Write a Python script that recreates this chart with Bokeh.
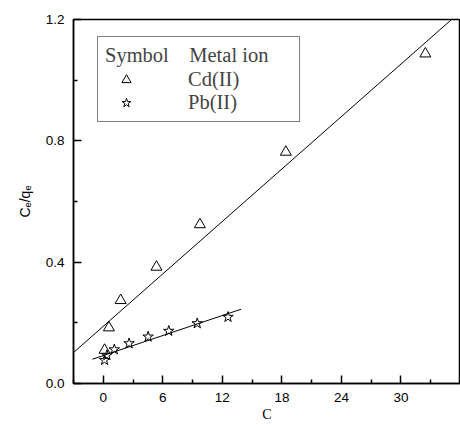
from bokeh.plotting import figure
from bokeh.models import (Range1d, FixedTicker, Legend, LegendItem, Label,
                          CustomJSTickFormatter)
from bokeh.embed import file_html
from bokeh.resources import INLINE

# ---- data ----
cd_x = [0.13, 0.57, 1.75, 5.36, 9.74, 18.4, 32.46]
cd_y = [0.110, 0.184, 0.274, 0.384, 0.524, 0.763, 1.087]

pb_x = [0.13, 0.37, 1.11, 2.60, 4.52, 6.60, 9.47, 12.57]
pb_y = [0.077, 0.093, 0.112, 0.132, 0.154, 0.173, 0.198, 0.219]

# fitted straight lines (end points)
cd_fit_x = [-3.0, 35.1]
cd_fit_y = [0.102, 1.200]
pb_fit_x = [-1.1, 13.9]
pb_fit_y = [0.080, 0.245]

x_major = [0, 6, 12, 18, 24, 30, 36]
x_minor = [-3, 3, 9, 15, 21, 27, 33]
y_major = [0.0, 0.4, 0.8, 1.2]
y_minor = [0.2, 0.6, 1.0]

p = figure(width=460, height=425, output_backend="svg", toolbar_location=None,
           x_range=Range1d(-3, 36), y_range=Range1d(0, 1.2),
           min_border_left=73, min_border_right=0, min_border_top=19,
           min_border_bottom=42, min_border=0)
p.background_fill_color = "white"
p.border_fill_color = "white"
p.grid.visible = False
p.outline_line_color = "black"
p.outline_line_width = 1.5

for ax in (p.xaxis[0], p.yaxis[0]):
    ax.axis_line_width = 1.5
    ax.major_tick_in = 8
    ax.major_tick_out = 0
    ax.minor_tick_in = 4
    ax.minor_tick_out = 0
    ax.major_tick_line_width = 1.5
    ax.minor_tick_line_width = 1.5
    ax.major_label_text_font = "Liberation Sans"
    ax.major_label_text_font_size = "13.5px"
    ax.major_label_text_color = "black"
    ax.axis_label_text_font_style = "normal"
    ax.axis_label_text_color = "black"

p.xaxis.ticker = FixedTicker(ticks=x_major, minor_ticks=x_minor)
p.yaxis.ticker = FixedTicker(ticks=y_major, minor_ticks=y_minor)
p.yaxis.formatter = CustomJSTickFormatter(code="return tick.toFixed(1);")
# the last x tick label sits at the canvas edge; keep it inside the page
last = x_major[-1]
p.xaxis.major_label_overrides = {last: ""}
p.xaxis.major_label_standoff = 9
p.yaxis.major_label_standoff = 9

edge_label = Label(x=last, y=-9, x_units="data", y_units="screen",
                   x_offset=-1,
                   text=str(last), text_align="right", text_baseline="top",
                   text_font="Liberation Sans", text_font_size="13.5px",
                   text_color="black")
p.add_layout(edge_label)

p.xaxis.axis_label = "C"
p.xaxis.axis_label_text_font = "Liberation Serif"
p.xaxis.axis_label_text_font_size = "14px"
p.xaxis.axis_label_standoff = 2

p.yaxis.axis_label = "Cₑ/qₑ"
p.yaxis.axis_label_text_font = "Liberation Sans"
p.yaxis.axis_label_text_font_size = "14px"
p.yaxis.axis_label_standoff = 10

p.line(cd_fit_x, cd_fit_y, line_color="black", line_width=1)
p.line(pb_fit_x, pb_fit_y, line_color="black", line_width=1)

r_cd = p.scatter(cd_x, cd_y, marker="triangle", size=11, fill_color=None,
                 line_color="black", line_width=1)
r_pb = p.scatter(pb_x, pb_y, marker="star", size=11, fill_color=None,
                 line_color="black", line_width=1)

legend = Legend(items=[LegendItem(label="Cd(II)", renderers=[r_cd]),
                       LegendItem(label="Pb(II)", renderers=[r_pb])],
                location=(24, 261),
                title="Symbol    Metal ion")
legend.title_text_font = "Liberation Serif"
legend.title_text_font_size = "20.5px"
legend.title_text_font_style = "normal"
legend.title_standoff = 1
legend.label_text_font = "Liberation Serif"
legend.label_text_font_size = "20.5px"
legend.padding = 7
legend.margin = 0
legend.spacing = 0
legend.glyph_width = 42
legend.glyph_height = 23
legend.label_height = 23
legend.label_standoff = 41
legend.label_width = 104
legend.border_line_color = "black"
legend.border_line_width = 1
legend.background_fill_alpha = 1
p.add_layout(legend)

open("out.html", "w").write(file_html(p, INLINE))
